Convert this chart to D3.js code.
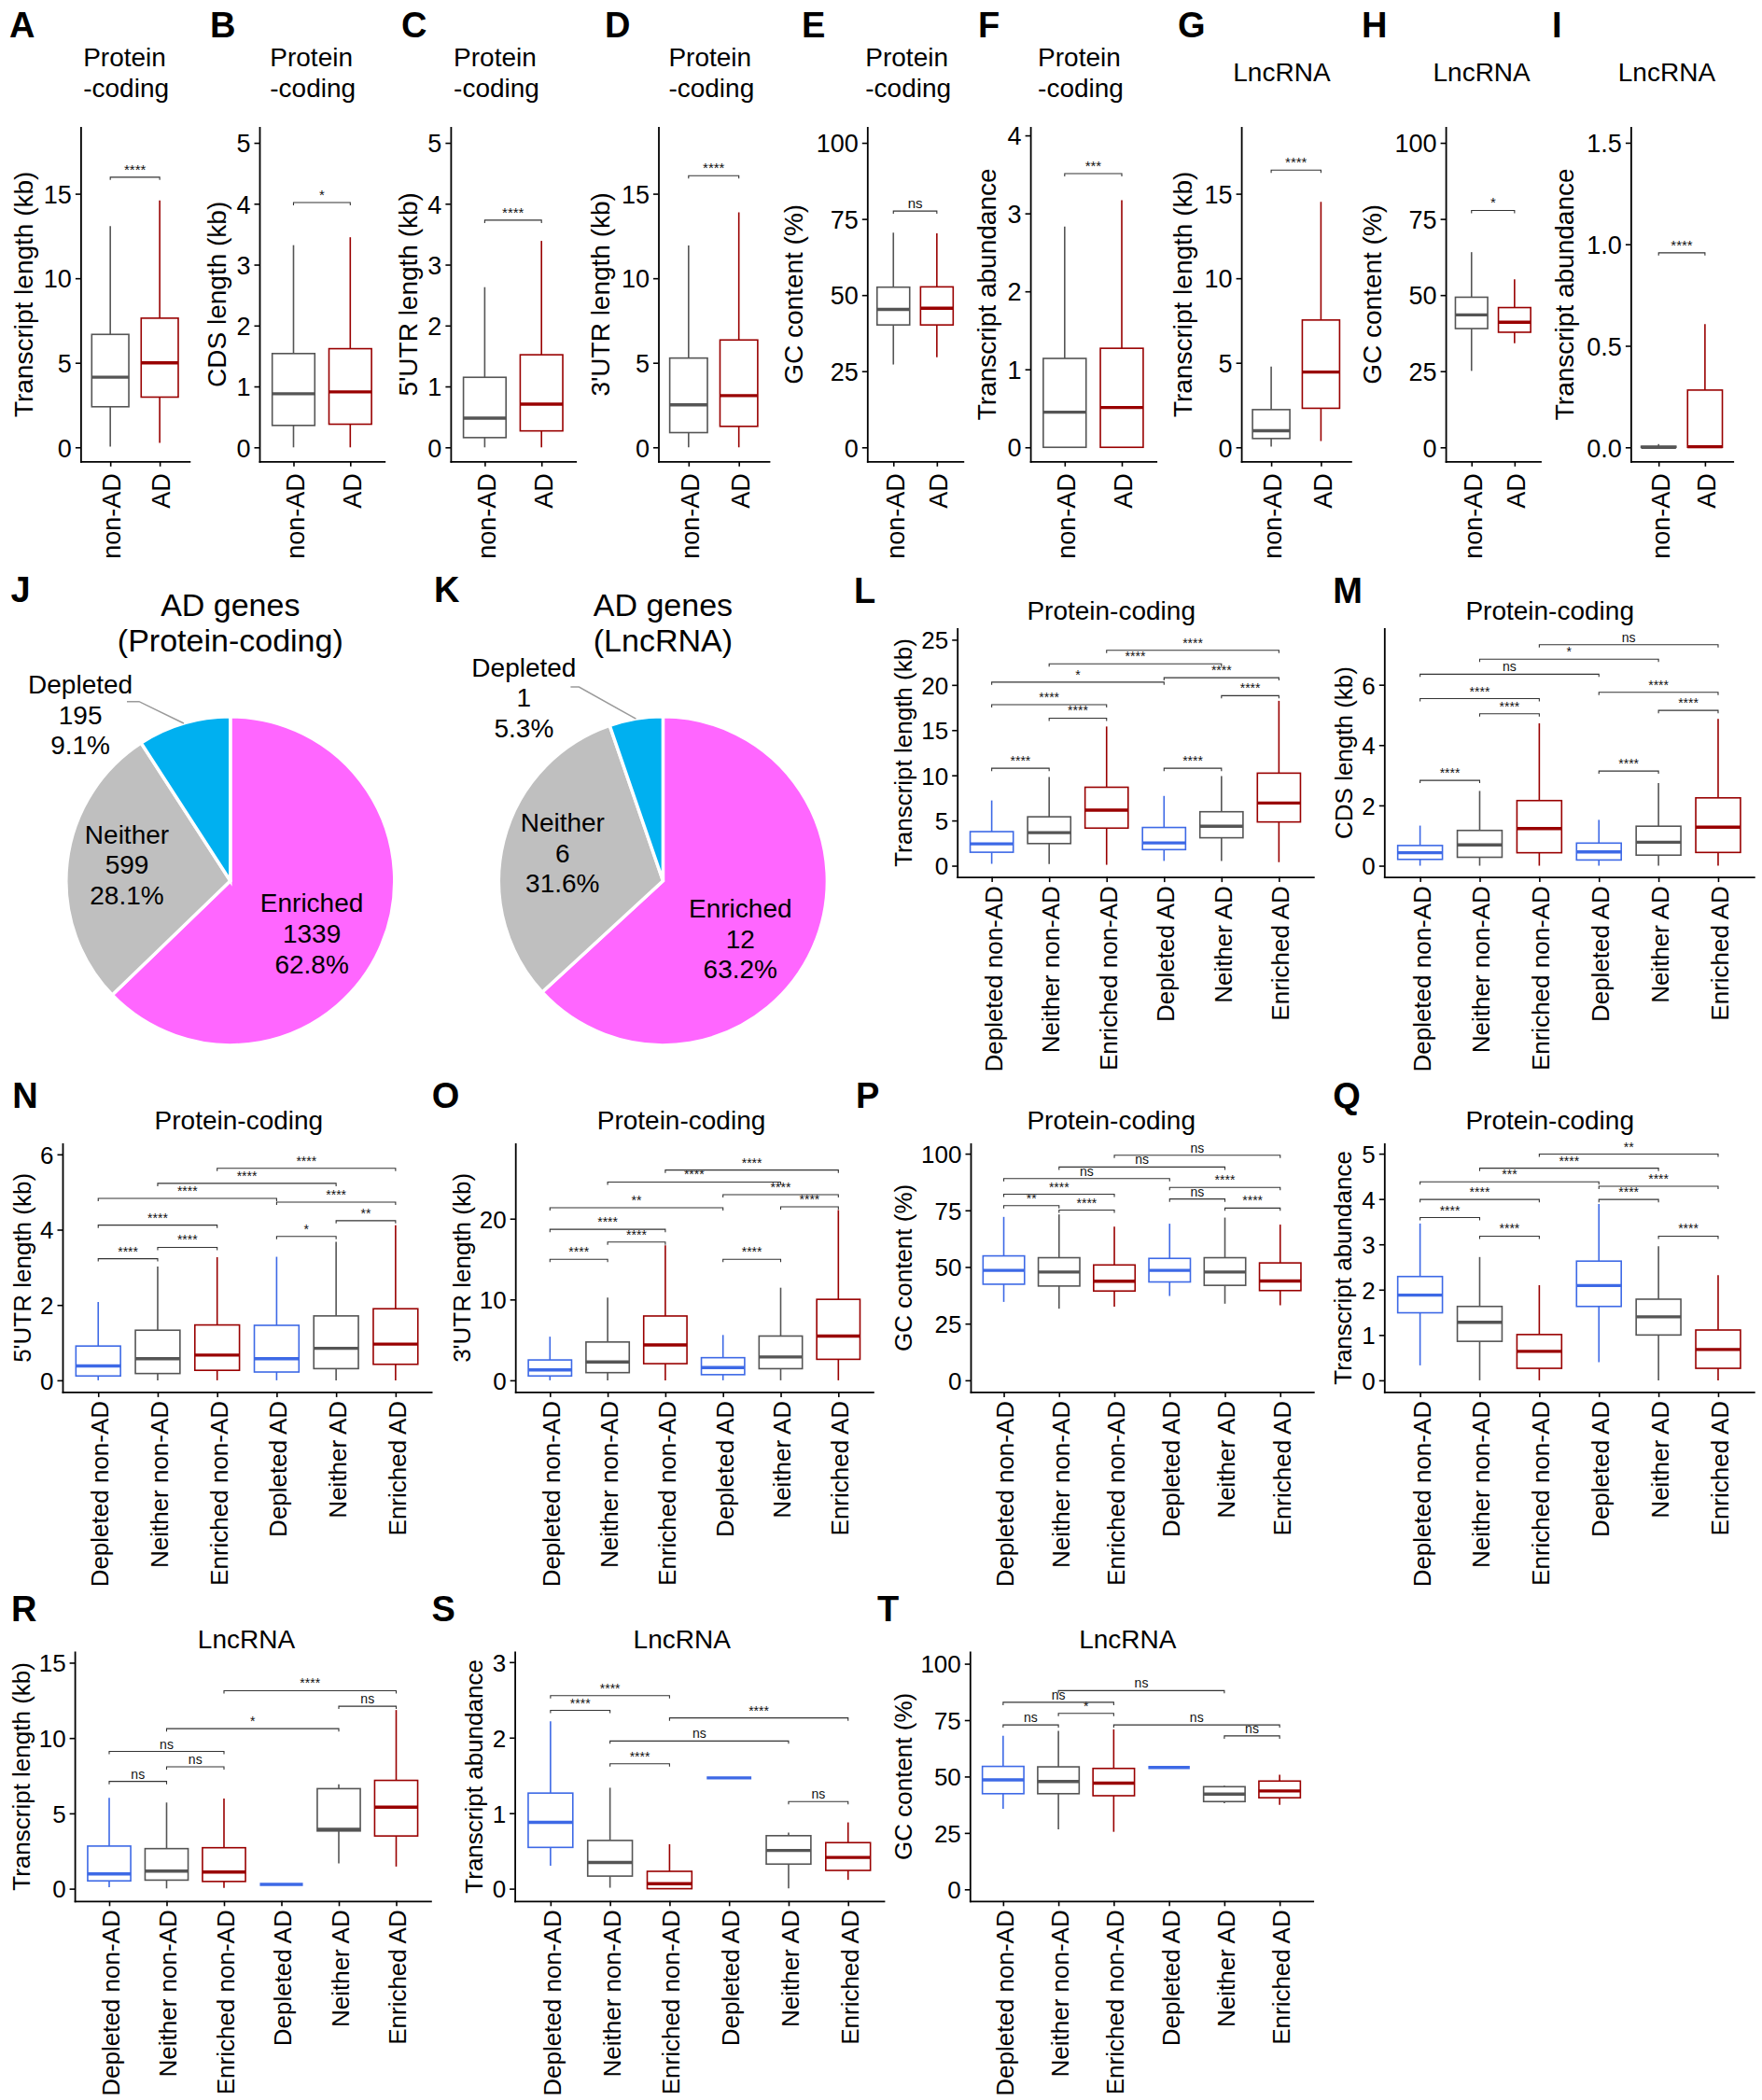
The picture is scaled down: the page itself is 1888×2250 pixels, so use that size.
<!DOCTYPE html>
<html><head><meta charset="utf-8">
<script src="https://cdn.jsdelivr.net/npm/d3@7"></script>
<style>body{margin:0;background:#fff} svg{display:block}</style>
</head><body><svg id="fig" width="1888" height="2250"></svg>
<script>
// ================= DATA =================
const catsTop = ["non-AD", "AD"];
const catsSix = ["Depleted non-AD","Neither non-AD","Enriched non-AD","Depleted AD","Neither AD","Enriched AD"];

// y tick values
const ticksA = [0,5,10,15], ticksB = [0,1,2,3,4,5], ticksC = [0,1,2,3,4,5], ticksD = [0,5,10,15];
const ticksE = [0,25,50,75,100], ticksF = [0,1,2,3,4], ticksG = [0,5,10,15], ticksH = [0,25,50,75,100];
const ticksI = [0,0.5,1.0,1.5];
const ticksL = [0,5,10,15,20,25], ticksM = [0,2,4,6], ticksN = [0,2,4,6], ticksO = [0,10,20];
const ticksP = [0,25,50,75,100], ticksQ = [0,1,2,3,4,5], ticksR = [0,5,10,15], ticksS = [0,1,2,3];
const ticksT = [0,25,50,75,100];

// five-number summaries: [lower whisker, Q1, median, Q3, upper whisker]
const statsA = [[0.04,2.40,4.15,6.68,13.08],[0.26,2.97,5.00,7.64,14.60]];
const statsB = [[0,0.36,0.88,1.54,3.32],[0,0.38,0.91,1.62,3.45]];
const statsC = [[0,0.16,0.48,1.15,2.63],[0,0.27,0.71,1.52,3.39]];
const statsD = [[0,0.87,2.51,5.28,11.94],[0,1.24,3.06,6.35,13.90]];
const statsE = [[27.2,40.2,45.3,52.6,70.5],[29.6,40.2,45.7,52.7,70.3]];
const statsF = [[0,0,0.45,1.14,2.83],[0,0,0.51,1.27,3.17]];
const statsG = [[0.04,0.52,0.98,2.23,4.78],[0.37,2.31,4.45,7.53,14.52]];
const statsH = [[25.1,39.0,43.5,49.3,64.1],[34.2,37.8,41.1,45.9,55.2]];
const statsI = [[0,0,0,0.005,0.016],[0,0,0.003,0.282,0.607]];

// significance brackets: [group i, group j, y value, label]
const sigA = [[0,1,15.98,"****"]];
const sigB = [[0,1,4.02,"*"]];
const sigC = [[0,1,3.73,"****"]];
const sigD = [[0,1,16.07,"****"]];
const sigE = [[0,1,77.6,"ns"]];
const sigF = [[0,1,3.51,"***"]];
const sigG = [[0,1,16.4,"****"]];
const sigH = [[0,1,77.8,"*"]];
const sigI = [[0,1,0.958,"****"]];

const statsL = [[0.21,1.49,2.42,3.77,7.22],[0.18,2.45,3.66,5.41,9.82],[0.10,4.16,6.15,8.68,15.40],
                [0.53,1.78,2.52,4.23,7.72],[0.53,3.09,4.37,5.97,9.92],[0.39,4.84,6.93,10.24,18.24]];
const sigL = [[0,1,10.78,"****"],[3,4,10.78,"****"],[1,2,16.32,"****"],[0,2,17.82,"****"],[4,5,18.81,"****"],
              [3,5,20.80,"****"],[0,3,20.31,"*"],[1,4,22.33,"****"],[2,5,23.83,"****"]];

const statsM = [[0,0.21,0.43,0.67,1.33],[0,0.28,0.69,1.17,2.48],[0,0.43,1.23,2.16,4.72],
                [0,0.19,0.46,0.75,1.52],[0,0.35,0.78,1.31,2.74],[0,0.44,1.28,2.25,4.87]];
const sigM = [[0,1,2.83,"****"],[3,4,3.14,"****"],[1,2,5.04,"****"],[0,2,5.54,"****"],[4,5,5.15,"****"],
              [3,5,5.75,"****"],[0,3,6.35,"ns"],[1,4,6.85,"*"],[2,5,7.33,"ns"]];

const statsN = [[0,0.115,0.38,0.91,2.08],[0,0.18,0.575,1.33,3.02],[0,0.265,0.67,1.47,3.27],
                [0,0.22,0.575,1.46,3.28],[0,0.31,0.85,1.71,3.68],[0,0.425,0.96,1.90,4.12]];
const sigN = [[0,1,3.23,"****"],[1,2,3.53,"****"],[0,2,4.12,"****"],[3,4,3.82,"*"],[4,5,4.24,"**"],
              [0,3,4.83,"****"],[3,5,4.73,"****"],[1,4,5.23,"****"],[2,5,5.63,"****"]];

const statsO = [[0,0.54,1.28,2.52,5.40],[0,0.95,2.27,4.74,10.23],[0,2.06,4.37,7.96,16.70],
                [0,0.70,1.57,2.80,5.61],[0,1.44,2.89,5.48,11.46],[0,2.60,5.48,10.02,21.07]];
const sigO = [[0,1,14.97,"****"],[3,4,14.97,"****"],[1,2,17.11,"****"],[0,2,18.68,"****"],[4,5,21.48,"****"],
              [0,3,21.36,"**"],[3,5,22.97,"****"],[1,4,24.54,"****"],[2,5,26.02,"****"]];

const statsP = [[34.6,42.4,48.5,54.9,72.1],[31.6,41.6,47.8,54.1,73.2],[32.5,39.4,43.7,50.9,67.8],
                [37.2,43.4,48.5,53.8,69.1],[33.8,41.9,47.8,54.1,71.8],[33.1,39.6,43.8,51.8,68.7]];
const sigP = [[0,1,77.1,"**"],[1,2,75.1,"****"],[0,2,82.1,"****"],[3,4,80.0,"ns"],[4,5,76.0,"****"],
              [3,5,85.1,"****"],[0,3,89.0,"ns"],[1,4,94.1,"ns"],[2,5,99.3,"ns"]];

const statsQ = [[0.33,1.49,1.88,2.29,3.46],[0,0.86,1.28,1.63,2.72],[0,0.265,0.64,1.01,2.10],
                [0.40,1.63,2.09,2.63,3.89],[0,1.00,1.40,1.79,2.96],[0,0.265,0.68,1.11,2.32]];
const sigQ = [[0,1,3.59,"****"],[1,2,3.18,"****"],[0,2,3.99,"****"],[3,4,3.99,"****"],[4,5,3.18,"****"],
              [3,5,4.28,"****"],[0,3,4.38,"***"],[1,4,4.68,"****"],[2,5,4.99,"**"]];

const statsR = [[0.10,0.52,0.98,2.83,6.03],[0.02,0.57,1.17,2.66,5.72],[0.06,0.48,1.11,2.72,5.99],
                [0.29,0.29,0.29,0.29,0.29],[1.68,3.83,3.94,6.64,6.93],[1.47,3.50,5.41,7.19,11.86]];
const sigR = [[0,1,7.12,"ns"],[1,2,8.09,"ns"],[0,2,9.11,"ns"],[4,5,12.11,"ns"],[1,4,10.62,"*"],[2,5,13.14,"****"]];

const statsS = [[0.305,0.547,0.878,1.266,2.215],[0.013,0.167,0.347,0.639,1.337],[0,0,0.067,0.23,0.589],
                [1.467,1.467,1.467,1.467,1.467],[0.004,0.326,0.506,0.702,0.744],[0.117,0.242,0.414,0.61,0.878]];
const sigS = [[0,1,2.361,"****"],[0,2,2.557,"****"],[1,2,1.655,"****"],[1,4,1.956,"ns"],[2,5,2.261,"****"],[4,5,1.153,"ns"]];

const statsT = [[35.7,42.4,48.5,54.5,68.1],[26.6,42.4,47.8,54.3,70.2],[25.5,41.5,47.1,53.6,70.9],
                [54.0,54.0,54.0,54.0,54.0],[38.2,38.9,42.2,45.5,45.9],[37.5,40.6,43.6,48.0,50.8]];
const sigT = [[0,1,72.9,"ns"],[1,2,78.0,"*"],[0,2,82.9,"ns"],[1,4,88.1,"ns"],[2,5,72.9,"ns"],[4,5,68.0,"ns"]];

// pie data
const pieCats = ["Enriched","Neither","Depleted"];
const pieJ = [1339, 599, 195];
const pieJpct = ["62.8%","28.1%","9.1%"];
const pieK = [12, 6, 1];
const pieKpct = ["63.2%","31.6%","5.3%"];

// ================= STYLE / LAYOUT =================
const FONT = "'Liberation Sans', Arial, Helvetica, sans-serif";
const BLUE = "#3d69e6", GREY = "#555555", RED = "#990000";
const colTop = [GREY, RED];
const colSix = [BLUE, GREY, RED, BLUE, GREY, RED];
const pieColors = ["#ff66ff", "#bfbfbf", "#00b0f0"];

const svg = d3.select("#fig").attr("font-family", FONT);
svg.append("rect").attr("width",1888).attr("height",2250).attr("fill","#fff");

function letter(t, x, y) {
  svg.append("text").attr("x", x).attr("y", y).attr("font-size", 38)
    .attr("font-weight", "bold").attr("fill", "#000").text(t);
}

function boxPanel(c) {
  const x = d3.scalePoint().domain(c.cats).range([c.x0, c.x1]).padding(0.6);
  const y = d3.scaleLinear().domain(c.dom).range([c.yBot, c.yTop]);
  const bw = x.step() * 0.75;
  const g = svg.append("g");

  const ya = g.append("g").attr("transform", `translate(${c.x0},0)`)
    .call(d3.axisLeft(y).tickValues(c.ticks).tickFormat(c.fmt || d3.format("d"))
      .tickSize(5.5).tickSizeOuter(0).tickPadding(4));
  ya.attr("font-family", FONT).attr("font-size", c.fs);
  ya.select(".domain").attr("stroke", "#000").attr("stroke-width", 1.8).attr("stroke-linecap","square");
  ya.selectAll(".tick line").attr("stroke", "#000").attr("stroke-width", 1.6);
  ya.selectAll(".tick text").attr("fill", "#000").attr("dy", "0.36em");

  const xa = g.append("g").attr("transform", `translate(0,${c.yBot})`)
    .call(d3.axisBottom(x).tickSize(5.5).tickSizeOuter(0));
  xa.attr("font-family", FONT).attr("font-size", c.xfs);
  xa.select(".domain").attr("stroke", "#000").attr("stroke-width", 1.8).attr("stroke-linecap","square");
  xa.selectAll(".tick line").attr("stroke", "#000").attr("stroke-width", 1.6);
  xa.selectAll(".tick text").attr("fill", "#000").attr("transform", "rotate(-90)")
    .attr("x", -c.xg).attr("y", 0).attr("dy", "0.4em").attr("text-anchor", "end");

  c.stats.forEach((s, i) => {
    const cx = x(c.cats[i]), col = c.colors[i];
    g.append("line").attr("x1", cx).attr("x2", cx).attr("y1", y(s[0])).attr("y2", y(s[1]))
      .attr("stroke", col).attr("stroke-width", 1.6);
    g.append("line").attr("x1", cx).attr("x2", cx).attr("y1", y(s[3])).attr("y2", y(s[4]))
      .attr("stroke", col).attr("stroke-width", 1.6);
    g.append("rect").attr("x", cx - bw/2).attr("y", y(s[3])).attr("width", bw)
      .attr("height", Math.max(0, y(s[1]) - y(s[3]))).attr("fill", "#fff")
      .attr("stroke", col).attr("stroke-width", 1.6);
    g.append("line").attr("x1", cx - bw/2).attr("x2", cx + bw/2).attr("y1", y(s[2])).attr("y2", y(s[2]))
      .attr("stroke", col).attr("stroke-width", 3.4);
  });

  c.sig.forEach(([i, j, v, lab]) => {
    const xa1 = x(c.cats[i]), xa2 = x(c.cats[j]), yy = y(v);
    g.append("path").attr("d", `M${xa1},${yy+3}V${yy}H${xa2}V${yy+3}`)
      .attr("fill", "none").attr("stroke", "#333").attr("stroke-width", 1.1);
    g.append("text").attr("x", (xa1 + xa2)/2).attr("y", yy - 3).attr("text-anchor", "middle")
      .attr("font-size", c.sfs).attr("fill", "#111").text(lab);
  });

  svg.append("text").attr("transform", `translate(${c.ytx},${(c.yTop + c.yBot)/2}) rotate(-90)`)
    .attr("text-anchor", "middle").attr("dy", "0.26em").attr("font-size", c.yfs).attr("fill", "#000").text(c.yt);

  c.titleLines.forEach((t, k) => {
    svg.append("text").attr("x", c.tx).attr("y", c.tys[k]).attr("font-size", c.tfs)
      .attr("text-anchor", c.tanchor).attr("fill", "#000").text(t);
  });
  letter(c.letter, c.lx, c.ly);
}

// ---------- Row 1 ----------
const r1 = {yTop:136.4, yBot:494.3, fs:27, xfs:27, xg:13, sfs:15, tfs:28, yfs:28, cats:catsTop, colors:colTop, ly:39.5, tanchor:"start"};
const PC = ["Protein","-coding"], PCy = [71.2, 103.6];
const LN = ["LncRNA"], LNy = [87];
const topPanels = [
  {letter:"A", lx:10,   x0:86.4,   x1:202.9,  dom:[-0.83,18.93], ticks:ticksA, stats:statsA, sig:sigA, titleLines:PC, tys:PCy, tx:89.2,   yt:"Transcript length (kb)", ytx:27.3},
  {letter:"B", lx:225,  x0:278,    x1:411.8,  dom:[-0.23,5.255], ticks:ticksB, stats:statsB, sig:sigB, titleLines:PC, tys:PCy, tx:289.3,  yt:"CDS length (kb)", ytx:235},
  {letter:"C", lx:429.9,x0:482.9,  x1:616.7,  dom:[-0.23,5.255], ticks:ticksC, stats:statsC, sig:sigC, titleLines:PC, tys:PCy, tx:486.1,  yt:"5'UTR length (kb)", ytx:439.9},
  {letter:"D", lx:648,  x0:705.5,  x1:824,    dom:[-0.83,18.93], ticks:ticksD, stats:statsD, sig:sigD, titleLines:PC, tys:PCy, tx:716.4,  yt:"3'UTR length (kb)", ytx:646},
  {letter:"E", lx:859,  x0:929.3,  x1:1031.8, dom:[-4.6,105.1],  ticks:ticksE, stats:statsE, sig:sigE, titleLines:PC, tys:PCy, tx:927.3,  yt:"GC content (%)", ytx:853},
  {letter:"F", lx:1048, x0:1104.1, x1:1238.7, dom:[-0.18,4.104], ticks:ticksF, stats:statsF, sig:sigF, titleLines:PC, tys:PCy, tx:1112.1, yt:"Transcript abundance", ytx:1059.9},
  {letter:"G", lx:1262, x0:1330.1, x1:1447.4, dom:[-0.83,18.93], ticks:ticksG, stats:statsG, sig:sigG, titleLines:LN, tys:LNy, tx:1321.3, yt:"Transcript length (kb)", ytx:1270},
  {letter:"H", lx:1459, x0:1549.1, x1:1650.5, dom:[-4.6,105.1],  ticks:ticksH, stats:statsH, sig:sigH, titleLines:LN, tys:LNy, tx:1535.5, yt:"GC content (%)", ytx:1472.3},
  {letter:"I", lx:1663, x0:1747.4, x1:1856.7, dom:[-0.069,1.576],ticks:ticksI, stats:statsI, sig:sigI, titleLines:LN, tys:LNy, tx:1733.8, yt:"Transcript abundance", ytx:1678.5, fmt:d3.format(".1f")}
];
topPanels.forEach(p => boxPanel(Object.assign({}, r1, p)));

// ---------- Rows 2-4 ----------
const r6 = {fs:26, xfs:26, xg:9.5, sfs:14, tfs:28, yfs:26, cats:catsSix, colors:colSix, tanchor:"middle"};
const row2 = {yTop:673.4, yBot:939.6, ly:645.8};
const row3 = {yTop:1225.4, yBot:1491.4, ly:1186.8};
const row4 = {yTop:1770, yBot:2036.8, ly:1737};
const sixPanels = [
  Object.assign({}, row2, {letter:"L", lx:915,    x0:1025.7, x1:1407.3, dom:[-1.245,26.24], ticks:ticksL, stats:statsL, sig:sigL, titleLines:["Protein-coding"], tys:[664], tx:1190.7, yt:"Transcript length (kb)", ytx:970}),
  Object.assign({}, row2, {letter:"M", lx:1428.3, x0:1483.3, x1:1879.3, dom:[-0.373,7.865], ticks:ticksM, stats:statsM, sig:sigM, titleLines:["Protein-coding"], tys:[664], tx:1660.7, yt:"CDS length (kb)", ytx:1442.7}),
  Object.assign({}, row3, {letter:"N", lx:13.2,   x0:67,     x1:462.1,  dom:[-0.31,6.283],  ticks:ticksN, stats:statsN, sig:sigN, titleLines:["Protein-coding"], tys:[1210], tx:255.9, yt:"5'UTR length (kb)", ytx:26.3}),
  Object.assign({}, row3, {letter:"O", lx:462.8,  x0:552.2,  x1:935.4,  dom:[-1.443,29.28], ticks:ticksO, stats:statsO, sig:sigO, titleLines:["Protein-coding"], tys:[1210], tx:730, yt:"3'UTR length (kb)", ytx:497.4}),
  Object.assign({}, row3, {letter:"P", lx:917,    x0:1040,   x1:1407.3, dom:[-5.15,104.4],  ticks:ticksP, stats:statsP, sig:sigP, titleLines:["Protein-coding"], tys:[1210], tx:1190.7, yt:"GC content (%)", ytx:970}),
  Object.assign({}, row3, {letter:"Q", lx:1428.3, x0:1483.3, x1:1879.3, dom:[-0.257,5.22],  ticks:ticksQ, stats:statsQ, sig:sigQ, titleLines:["Protein-coding"], tys:[1210], tx:1660.7, yt:"Transcript abundance", ytx:1441.7}),
  Object.assign({}, row4, {letter:"R", lx:11.9,   x0:80.1,   x1:461.4,  dom:[-0.817,15.71], ticks:ticksR, stats:statsR, sig:sigR, titleLines:["LncRNA"], tys:[1765.6], tx:264, yt:"Transcript length (kb)", ytx:25.2}),
  Object.assign({}, row4, {letter:"S", lx:462.6,  x0:551.6,  x1:947,    dom:[-0.163,3.134], ticks:ticksS, stats:statsS, sig:sigS, titleLines:["LncRNA"], tys:[1765.6], tx:730.7, yt:"Transcript abundance", ytx:510}),
  Object.assign({}, row4, {letter:"T", lx:940,    x0:1039.3, x1:1406.7, dom:[-5.17,105.2],  ticks:ticksT, stats:statsT, sig:sigT, titleLines:["LncRNA"], tys:[1765.6], tx:1208.3, yt:"GC content (%)", ytx:970})
];
sixPanels.forEach(p => boxPanel(Object.assign({}, r6, p)));

// ---------- Pies ----------
function piePanel(c, vals, pcts) {
  const g = svg.append("g").attr("transform", `translate(${c.cx},${c.cy})`);
  const arcs = d3.pie().sort(null).value(d => d)(vals);
  const arc = d3.arc().innerRadius(0).outerRadius(c.r);
  g.selectAll("path").data(arcs).join("path").attr("d", arc)
    .attr("fill", (d, i) => pieColors[i]).attr("stroke", "#fff").attr("stroke-width", 3.5);
  const rim = d3.arc().innerRadius(c.r).outerRadius(c.r).centroid(arcs[2]);
  g.append("path").attr("d", `M${c.lead[0]-c.cx},${c.lead[1]-c.cy}h${c.lead[2]}L${rim[0]},${rim[1]}`)
    .attr("fill", "none").attr("stroke", "#9a9a9a").attr("stroke-width", 1.5);
  c.labels.forEach((L, i) => {
    const lines = [pieCats[i], String(vals[i]), pcts[i]];
    lines.forEach((t, k) => {
      svg.append("text").attr("x", L[0]).attr("y", L[1] + k * 32.8).attr("text-anchor", "middle")
        .attr("font-size", 28).attr("fill", "#000").text(t);
    });
  });
  c.title.forEach((t, k) => {
    svg.append("text").attr("x", c.cx).attr("y", 660 + k * 38.3).attr("text-anchor", "middle")
      .attr("font-size", 34).attr("fill", "#000").text(t);
  });
  letter(c.letter, c.lx, 645);
}
piePanel({letter:"J", lx:11.5, cx:246.8, cy:943.8, r:176, title:["AD genes","(Protein-coding)"],
  labels:[[334.1,977.3],[136,903.6],[86.1,742.7]], lead:[136,751.7,13]}, pieJ, pieJpct);
piePanel({letter:"K", lx:465, cx:710.4, cy:943.8, r:176, title:["AD genes","(LncRNA)"],
  labels:[[793.3,982.7],[602.8,890.7],[561.4,724.5]], lead:[611.4,736,9]}, pieK, pieKpct);
</script></body></html>
